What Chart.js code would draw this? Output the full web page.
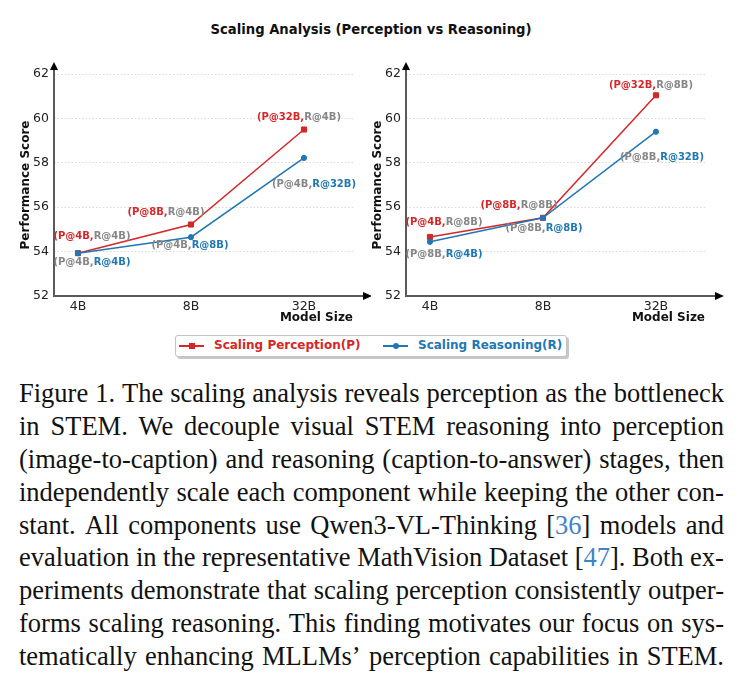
<!DOCTYPE html>
<html>
<head>
<meta charset="utf-8">
<script src="https://cdn.jsdelivr.net/npm/chart.js@4.4.1/dist/chart.umd.min.js"></script>
<style>
html,body{margin:0;padding:0;background:#fff;}
#wrap{position:relative;width:742px;height:689px;overflow:hidden;background:#fff;}
#wrap canvas{position:absolute;top:0;}
#title{position:absolute;left:0;width:742px;top:22px;text-align:center;font:bold 13.2px "DejaVu Sans",sans-serif;color:#111;line-height:16px;}
#legend{position:absolute;left:175px;top:335px;width:390px;height:20px;border:1px solid #c4c4c4;border-radius:3px;box-shadow:2px 2px 0 rgba(0,0,0,0.22);background:#fff;}
.lgline{position:absolute;height:2px;width:25px;top:345px;}
.lgtext{position:absolute;top:338px;line-height:15px;font:bold 12px "DejaVu Sans",sans-serif;white-space:nowrap;}
#caption{position:absolute;left:19px;top:377px;width:705px;font-family:"Liberation Serif","Times New Roman",serif;font-size:26.5px;line-height:32.9px;color:#111;}
.ln{display:flex;justify-content:space-between;white-space:nowrap;height:32.9px;}
.cite{color:#3f84c6;}
</style>
</head>
<body>
<div id="wrap">
  <div id="title">Scaling Analysis (Perception vs Reasoning)</div>
  <canvas id="cL" width="371" height="330" style="left:0px"></canvas>
  <canvas id="cR" width="371" height="330" style="left:371px"></canvas>
  <div id="legend"></div>
  <div class="lgline" style="left:179px;background:#d62728"></div>
  <div style="position:absolute;left:188.5px;top:342.5px;width:6px;height:6px;background:#d62728"></div>
  <div class="lgtext" style="left:214px;color:#d62728">Scaling Perception(P)</div>
  <div class="lgline" style="left:383px;background:#1f77b4"></div>
  <div style="position:absolute;left:392.5px;top:342.5px;width:6px;height:6px;border-radius:50%;background:#1f77b4"></div>
  <div class="lgtext" style="left:418px;color:#1f77b4">Scaling Reasoning(R)</div>
  <div id="caption"></div>
</div>
<script>
// ---- data ----
const categories = ['4B', '8B', '32B'];
const yTicks = [52, 54, 56, 58, 60, 62];

const leftPerception = [53.93, 55.22, 59.50];
const leftReasoning  = [53.93, 54.65, 58.22];
const rightPerception = [54.66, 55.52, 61.04];
const rightReasoning  = [54.44, 55.52, 59.40];

const leftPerceptionLabels = [['(P@4B,', 'R@4B)'], ['(P@8B,', 'R@4B)'], ['(P@32B,', 'R@4B)']];
const leftReasoningLabels  = [['(P@4B,', 'R@4B)'], ['(P@4B,', 'R@8B)'], ['(P@4B,', 'R@32B)']];
const rightPerceptionLabels = [['(P@4B,', 'R@8B)'], ['(P@8B,', 'R@8B)'], ['(P@32B,', 'R@8B)']];
const rightReasoningLabels  = [['(P@8B,', 'R@4B)'], ['(P@8B,', 'R@8B)'], ['(P@8B,', 'R@32B)']];

const captionLines = [
  'Figure 1. The scaling analysis reveals perception as the bottleneck',
  'in STEM. We decouple visual STEM reasoning into perception',
  '(image-to-caption) and reasoning (caption-to-answer) stages, then',
  'independently scale each component while keeping the other con-',
  'stant. All components use Qwen3-VL-Thinking [36] models and',
  'evaluation in the representative MathVision Dataset [47]. Both ex-',
  'periments demonstrate that scaling perception consistently outper-',
  'forms scaling reasoning. This finding motivates our focus on sys-',
  'tematically enhancing MLLMs\u2019 perception capabilities in STEM.'
];

// ---- styles ----
const RED = '#d62728', BLUE = '#1f77b4', GRAY = '#878787';
const FONT = '"DejaVu Sans", sans-serif';
const labelOffsets = {
  leftP: [[14, -17], [-25, -12], [-5, -12]],
  leftR: [[14, 9], [-1, 8], [10, 26]],
  rightP: [[14, -15], [-24, -12], [-5, -10]],
  rightR: [[14, 13], [1, 11], [6, 26]]
};

// caption
const cap = document.getElementById('caption');
captionLines.forEach(line => {
  const d = document.createElement('div');
  d.className = 'ln';
  line.split(' ').forEach(w => {
    const s = document.createElement('span');
    s.innerHTML = w.replace(/\[(\d+)\]/, '[<span class="cite">$1</span>]');
    d.appendChild(s);
  });
  cap.appendChild(d);
});

const decor = {
  id: 'decor',
  afterDraw(chart, args, opts) {
    const ctx = chart.ctx;
    const a = chart.chartArea;
    ctx.save();
    // spines
    ctx.strokeStyle = '#5a5a5a';
    ctx.lineWidth = 2;
    ctx.beginPath();
    ctx.moveTo(a.left, a.bottom);
    ctx.lineTo(a.left, a.top - 6);
    ctx.moveTo(a.left - 1, a.bottom);
    ctx.lineTo(a.right + 11, a.bottom);
    ctx.stroke();
    ctx.fillStyle = '#000';
    ctx.beginPath();
    ctx.moveTo(a.left - 4, a.top - 4);
    ctx.lineTo(a.left + 4, a.top - 4);
    ctx.lineTo(a.left, a.top - 12);
    ctx.closePath();
    ctx.fill();
    ctx.beginPath();
    ctx.moveTo(a.right + 10, a.bottom - 4);
    ctx.lineTo(a.right + 10, a.bottom + 4);
    ctx.lineTo(a.right + 19, a.bottom);
    ctx.closePath();
    ctx.fill();
    // annotations
    ctx.font = 'bold 10px ' + FONT;
    ctx.textBaseline = 'middle';
    ctx.textAlign = 'left';
    opts.groups.forEach(g => {
      const meta = chart.getDatasetMeta(g.dataset);
      g.labels.forEach((parts, i) => {
        const pt = meta.data[i];
        const cx = pt.x + g.offsets[i][0];
        const cy = pt.y + g.offsets[i][1];
        const w0 = ctx.measureText(parts[0]).width;
        const w1 = ctx.measureText(parts[1]).width;
        let x = cx - (w0 + w1) / 2;
        ctx.fillStyle = g.colors[0];
        ctx.fillText(parts[0], x, cy);
        ctx.fillStyle = g.colors[1];
        ctx.fillText(parts[1], x + w0, cy);
      });
    });
    ctx.restore();
  }
};

function makeChart(id, pVals, rVals, pLabels, rLabels, pOff, rOff, yWidth, yTitlePad, padRight) {
  return new Chart(document.getElementById(id), {
    type: 'line',
    data: {
      datasets: [
        {
          label: 'Scaling Reasoning(R)',
          data: rVals.map((v, i) => ({x: i, y: v})),
          borderColor: BLUE, backgroundColor: BLUE,
          pointStyle: 'circle', pointRadius: 2.6, pointBorderWidth: 1,
          borderWidth: 1.5, tension: 0
        },
        {
          label: 'Scaling Perception(P)',
          data: pVals.map((v, i) => ({x: i, y: v})),
          borderColor: RED, backgroundColor: RED,
          pointStyle: 'rect', pointRadius: 3.6, pointBorderWidth: 1,
          borderWidth: 1.5, tension: 0
        }
      ]
    },
    options: {
      responsive: false,
      animation: false,
      devicePixelRatio: 1,
      layout: {padding: {left: 0, right: padRight, top: 74, bottom: 0}},
      plugins: {
        legend: {display: false},
        tooltip: {enabled: false},
        decor: {
          groups: [
            {dataset: 1, labels: pLabels, offsets: pOff, colors: [RED, GRAY]},
            {dataset: 0, labels: rLabels, offsets: rOff, colors: [GRAY, BLUE]}
          ]
        }
      },
      scales: {
        x: {
          type: 'linear', min: -0.212, max: 2.434,
          afterBuildTicks: s => { s.ticks = categories.map((c, i) => ({value: i})); },
          ticks: {
            callback: v => categories[v],
            font: {family: FONT, size: 12.5}, color: '#222',
            padding: 3, maxRotation: 0, autoSkip: false
          },
          grid: {display: false, drawTicks: false},
          border: {display: false},
          title: {
            display: true, text: 'Model Size', align: 'end', color: '#111',
            font: {family: FONT, size: 12, weight: 'bold'},
            padding: {top: 0, bottom: 5}
          },
          afterFit: s => { s.height = 34; }
        },
        y: {
          min: 52, max: 62,
          afterBuildTicks: s => { s.ticks = yTicks.map(v => ({value: v})); },
          ticks: {font: {family: FONT, size: 12.5}, color: '#222', padding: 5},
          grid: {color: '#cfcfcf', lineWidth: 0.8, drawTicks: false},
          border: {display: false, dash: [1.5, 2]},
          title: {
            display: true, text: 'Performance Score', color: '#111',
            font: {family: FONT, size: 12, weight: 'bold'},
            padding: {top: yTitlePad, bottom: 0}
          },
          afterFit: s => { s.width = yWidth; }
        }
      }
    },
    plugins: [decor]
  });
}

makeChart('cL', leftPerception, leftReasoning, leftPerceptionLabels, leftReasoningLabels,
  labelOffsets.leftP, labelOffsets.leftR, 54, 19, 18);
makeChart('cR', rightPerception, rightReasoning, rightPerceptionLabels, rightReasoningLabels,
  labelOffsets.rightP, labelOffsets.rightR, 35, 0, 37);
</script>
</body>
</html>
